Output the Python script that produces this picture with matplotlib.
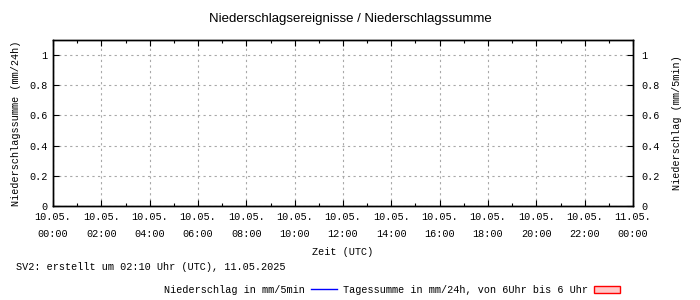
import matplotlib
matplotlib.use("Agg")
import matplotlib.pyplot as plt
from matplotlib.lines import Line2D
from matplotlib.patches import Patch

# --- data (no events in this period) ---
hours = [0, 2, 4, 6, 8, 10, 12, 14, 16, 18, 20, 22, 24]
tick_labels = ["10.05.\n00:00", "10.05.\n02:00", "10.05.\n04:00", "10.05.\n06:00",
               "10.05.\n08:00", "10.05.\n10:00", "10.05.\n12:00", "10.05.\n14:00",
               "10.05.\n16:00", "10.05.\n18:00", "10.05.\n20:00", "10.05.\n22:00",
               "11.05.\n00:00"]
y_ticks = [0, 0.2, 0.4, 0.6, 0.8, 1]
y_labels = ["0", "0.2", "0.4", "0.6", "0.8", "1"]
precip_time = []      # Niederschlag in mm/5min
precip_vals = []
daily_time = []       # Tagessumme in mm/24h
daily_vals = []

mono = "Liberation Mono"
fs = 7.3

fig = plt.figure(figsize=(7, 3), dpi=100)
ax = fig.add_axes([53 / 700, 94 / 300, 580 / 700, 166 / 300])
ax2 = ax.twinx()

ax.bar(daily_time, daily_vals, width=24, color="#ffc8c8", edgecolor="red")
ax2.plot(precip_time, precip_vals, color="blue", lw=1)

ax.set_xlim(0, 24)
ax.set_ylim(0, 1.1)
ax2.set_ylim(0, 1.1)

ax.set_xticks(hours)
ax.set_xticklabels(tick_labels, fontfamily=mono, fontsize=fs, linespacing=1.9)
ax.set_xticks(range(0, 25), minor=True)
ax.set_yticks(y_ticks)
ax.set_yticklabels(y_labels, fontfamily=mono, fontsize=fs)
ax2.set_yticks(y_ticks)
ax2.set_yticklabels(y_labels, fontfamily=mono, fontsize=fs)

ax.tick_params(axis="both", which="both", direction="in", top=True, length=4, width=0.8, pad=4)
ax.tick_params(axis="x", which="minor", length=2)
ax2.tick_params(axis="y", direction="in", length=4, width=0.8, pad=6)

ax.grid(True, which="major", color="#a8a8a8", linestyle=(0, (2, 3)), linewidth=0.8)
for a in (ax, ax2):
    for s in a.spines.values():
        s.set_linewidth(1.0)

ax.set_xlabel("Zeit (UTC)", fontfamily=mono, fontsize=fs, labelpad=6)
ax.set_ylabel("Niederschlagssumme (mm/24h)", fontfamily=mono, fontsize=fs, labelpad=6)
ax2.set_ylabel("Niederschlag (mm/5min)", fontfamily=mono, fontsize=fs, labelpad=9)

fig.text(0.5, 0.937, "Niederschlagsereignisse / Niederschlagssumme",
         ha="center", va="center", fontfamily="Liberation Sans", fontsize=9.5)
fig.text(16 / 700, 33 / 300, "SV2: erstellt um 02:10 Uhr (UTC), 11.05.2025",
         ha="left", va="center", fontfamily=mono, fontsize=fs)

handles = [Line2D([], [], color="blue", lw=1),
           Patch(facecolor="#ffc8c8", edgecolor="red", linewidth=1)]
labels = ["Niederschlag in mm/5min", "Tagessumme in mm/24h, von 6Uhr bis 6 Uhr"]
fig.legend(handles, labels, loc="center", bbox_to_anchor=(392 / 700, 10 / 300),
           ncol=2, frameon=False, markerfirst=False, prop={"family": mono, "size": fs},
           handlelength=2.6, handleheight=0.7, handletextpad=0.6, columnspacing=0.6,
           borderpad=0)

fig.savefig("out.png", dpi=100)
